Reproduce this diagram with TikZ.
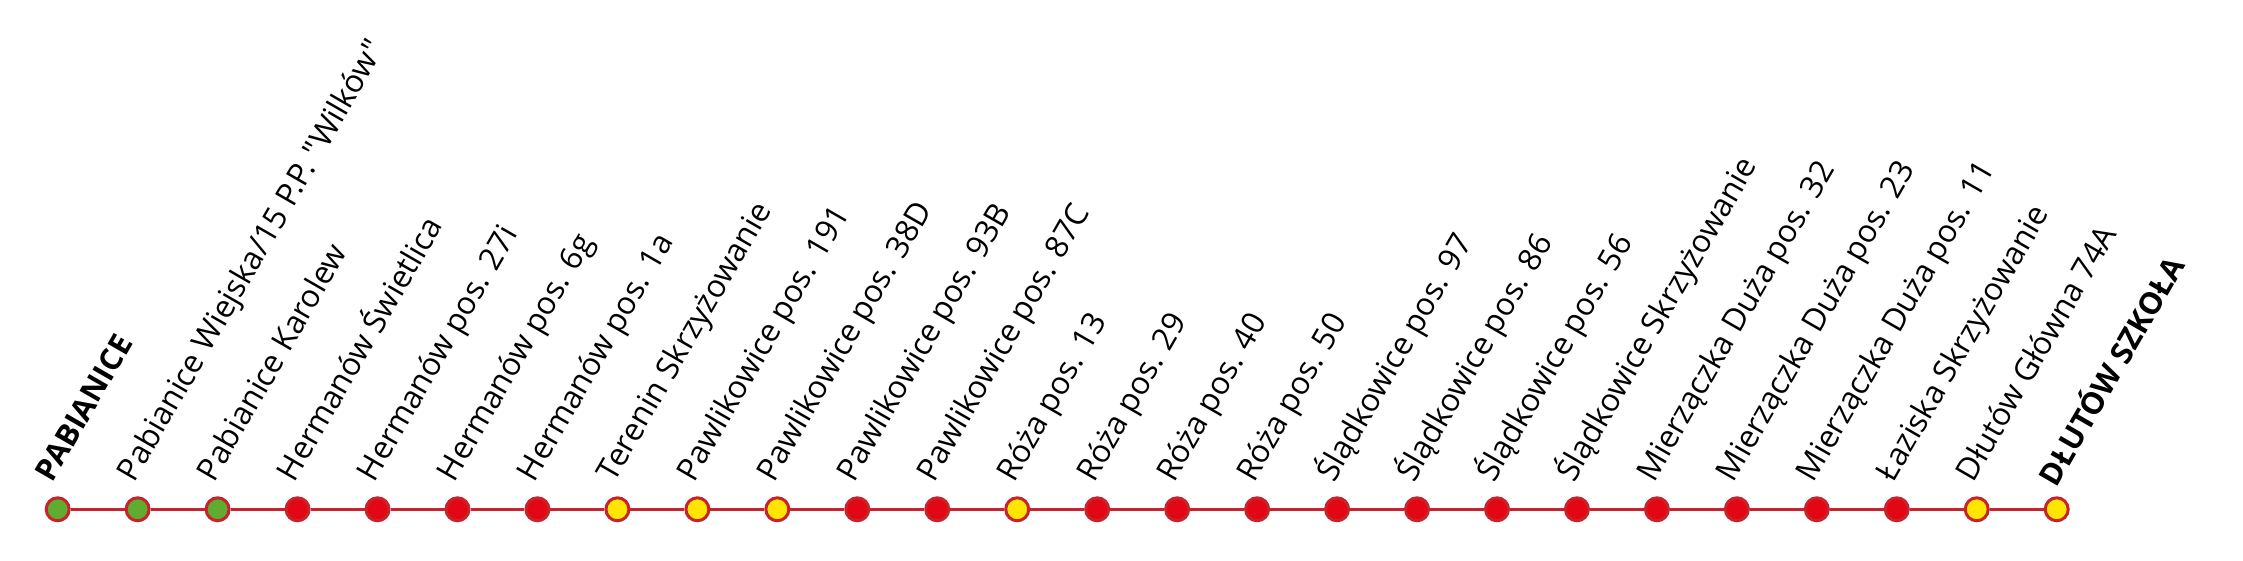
\documentclass[tikz,border=0pt]{standalone}
\usepackage{fontspec}
\newfontfamily\osans{Open Sans}
\definecolor{linered}{HTML}{C8232C}
\definecolor{stopred}{HTML}{E30613}
\definecolor{stopgreen}{HTML}{5FAD2F}
\definecolor{stopyellow}{HTML}{FFE500}
\tikzset{
  stopdot/.style={circle, draw=linered, line width=3pt, minimum size=23pt, inner sep=0pt},
  green stop/.style={stopdot, fill=stopgreen},
  red stop/.style={stopdot, fill=stopred},
  yellow stop/.style={stopdot, fill=stopyellow},
  stoplabel/.style={rotate=60, anchor=base west, inner sep=0pt, font=\osans\fontsize{31.5}{36}\selectfont},
  endlabel/.style={stoplabel, font=\osans\fontsize{30.5}{36}\selectfont\bfseries},
  route/.style={draw=linered, line width=3pt}
}
\begin{document}
\begin{tikzpicture}[x=1pt,y=1pt]
\useasboundingbox (0,0) rectangle (2243,561);
\foreach \i/\kind/\txt/\lab/\dx/\dy in {
 0/green/PABIANICE/endlabel/-2/0,
 1/green/{Pabianice Wiejska/15 P.P. "Wilków"}/stoplabel/0/0,
 2/green/Pabianice Karolew/stoplabel/0/0,
 3/red/Hermanów Świetlica/stoplabel/0/0,
 4/red/Hermanów pos. 27i/stoplabel/0/0,
 5/red/Hermanów pos. 6g/stoplabel/0/0,
 6/red/Hermanów pos. 1a/stoplabel/0/0,
 7/yellow/Terenin Skrzyżowanie/stoplabel/0/0,
 8/yellow/Pawlikowice pos. 191/stoplabel/0/0,
 9/yellow/Pawlikowice pos. 38D/stoplabel/0/0,
 10/red/Pawlikowice pos. 93B/stoplabel/0/0,
 11/red/Pawlikowice pos. 87C/stoplabel/0/0,
 12/yellow/Róża pos. 13/stoplabel/0/0,
 13/red/Róża pos. 29/stoplabel/0/0,
 14/red/Róża pos. 40/stoplabel/0/0,
 15/red/Róża pos. 50/stoplabel/0/0,
 16/red/Ślądkowice pos. 97/stoplabel/0/0,
 17/red/Ślądkowice pos. 86/stoplabel/0/0,
 18/red/Ślądkowice pos. 56/stoplabel/0/0,
 19/red/Ślądkowice Skrzyżowanie/stoplabel/0/0,
 20/red/Mierzączka Duża pos. 32/stoplabel/0/0,
 21/red/Mierzączka Duża pos. 23/stoplabel/0/0,
 22/red/Mierzączka Duża pos. 11/stoplabel/0/0,
 23/red/Łaziska Skrzyżowanie/stoplabel/0/0,
 24/yellow/Dłutów Główna 74A/stoplabel/0/0,
 25/yellow/DŁUTÓW SZKOŁA/endlabel/3/-5}{
  \node[\kind\space stop] (s\i) at ({57.7+79.96*\i},51.7) {};
  \node[\lab] (l\i) at ({54.7+79.96*\i+\dx},{77.7+\dy}) {\txt};
}
\foreach \i [evaluate=\i as \j using int(\i+1)] in {0,...,24}{
  \draw[route] (s\i) -- (s\j);
}
\end{tikzpicture}
\end{document}
